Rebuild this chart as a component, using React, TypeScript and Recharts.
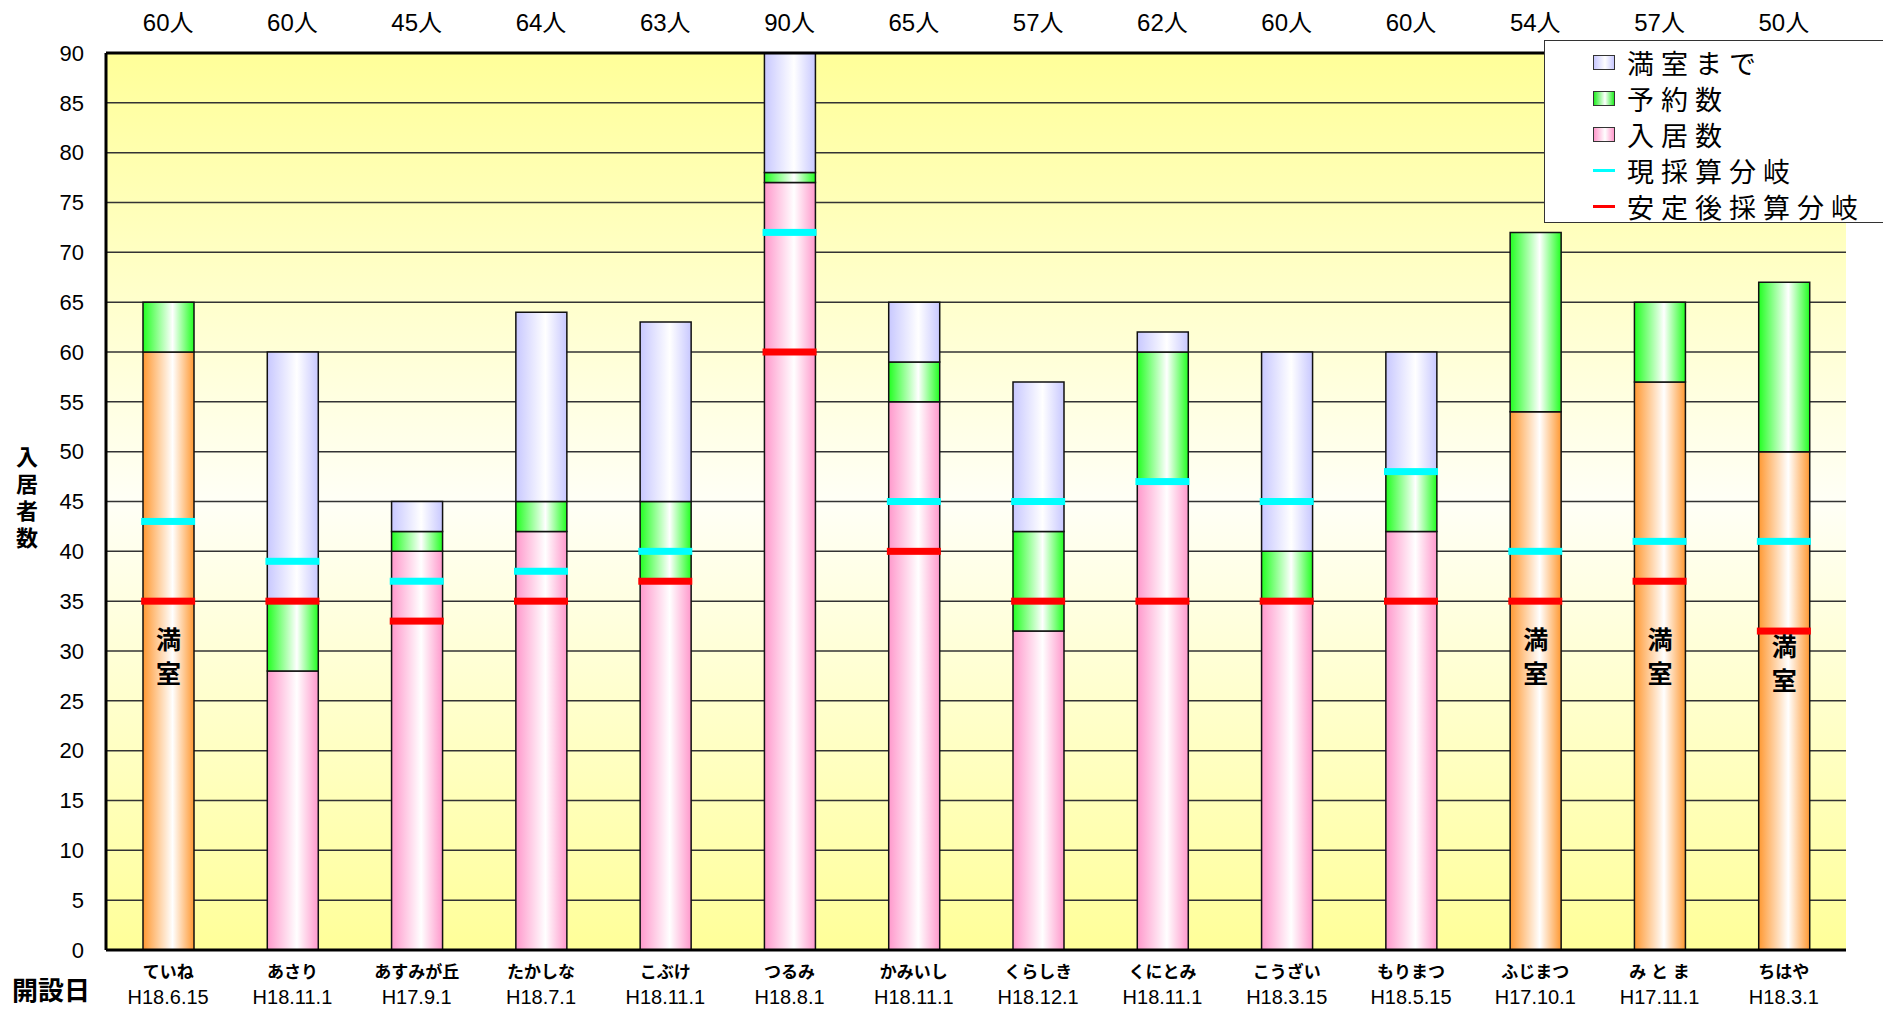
import * as React from 'react';
import {
  ComposedChart, Bar, Line, XAxis, YAxis, CartesianGrid, Cell, LabelList, Legend
} from 'recharts';

const names = ['ていね', 'あさり', 'あすみが丘', 'たかしな', 'こぶけ', 'つるみ', 'かみいし', 'くらしき', 'くにとみ', 'こうざい', 'もりまつ', 'ふじまつ', 'み と ま', 'ちはや'];
const openDates = ['H18.6.15', 'H18.11.1', 'H17.9.1', 'H18.7.1', 'H18.11.1', 'H18.8.1', 'H18.11.1', 'H18.12.1', 'H18.11.1', 'H18.3.15', 'H18.5.15', 'H17.10.1', 'H17.11.1', 'H18.3.1'];
const capacity = [60, 60, 45, 64, 63, 90, 65, 57, 62, 60, 60, 54, 57, 50];
const residents = [60, 28, 40, 42, 37, 77, 55, 32, 47, 35, 42, 54, 57, 50];
const reserved = [5, 7, 2, 3, 8, 1, 4, 10, 13, 5, 6, 18, 8, 17];
const toFull = [0, 25, 3, 19, 18, 12, 6, 15, 2, 20, 12, 0, 0, 0];
const breakEvenNow = [43, 39, 37, 38, 40, 72, 45, 45, 47, 45, 48, 40, 41, 41];
const breakEvenStable = [35, 35, 33, 35, 37, 60, 40, 35, 35, 35, 35, 35, 37, 32];
const yTicks = [0, 5, 10, 15, 20, 25, 30, 35, 40, 45, 50, 55, 60, 65, 70, 75, 80, 85, 90];

const FONT = "'Liberation Sans', 'Noto Sans CJK JP', sans-serif";

const data = names.map((name, i) => ({
  name,
  date: openDates[i],
  cap: `${capacity[i]}人`,
  residents: residents[i],
  reserved: reserved[i],
  toFull: toFull[i],
  now: breakEvenNow[i],
  stable: breakEvenStable[i],
  full: residents[i] >= capacity[i] ? '満室' : '',
}));

function BottomTick(props: any) {
  const { x, y, payload } = props;
  const d = data[payload.index];
  return (
    <g>
      <text x={x} y={y + 28} textAnchor="middle" fontSize={17} fontWeight="bold" fill="#000" fontFamily={FONT}>{d.name}</text>
      <text x={x} y={y + 54} textAnchor="middle" fontSize={20} fill="#000" fontFamily={FONT}>{d.date}</text>
    </g>
  );
}

function TopTick(props: any) {
  const { x, y, payload } = props;
  return (
    <text x={x} y={y - 22} textAnchor="middle" fontSize={24} fill="#000" fontFamily={FONT}>
      {data[payload.index].cap}
    </text>
  );
}

function dash(color: string) {
  return (p: any) => (
    <rect key={`${color}-${p.index}`} x={p.cx - 27} y={p.cy - 3.5} width={54} height={7} fill={color} />
  );
}

const legendItems = [
  { label: '満室まで', bg: 'linear-gradient(to right, #C8C8FF, #fff 55%, #C8C8FF)' },
  { label: '予約数', bg: 'linear-gradient(to right, #22EE22, #fff 55%, #22EE22)' },
  { label: '入居数', bg: 'linear-gradient(to right, #FF99CC, #fff 55%, #FF99CC)' },
];

function LegendBox() {
  const row = { display: 'flex', alignItems: 'center', height: 36 } as React.CSSProperties;
  const txt = { marginLeft: 12, fontSize: 27, letterSpacing: 7 } as React.CSSProperties;
  return (
    <div style={{ width: 360, height: 183, background: '#fff', border: '1px solid #333', boxSizing: 'border-box', paddingTop: 3, fontFamily: FONT }}>
      {legendItems.map((it) => (
        <div key={it.label} style={row}>
          <span style={{ display: 'inline-block', marginLeft: 48, width: 20, height: 13, border: '1px solid #333', background: it.bg }} />
          <span style={txt}>{it.label}</span>
        </div>
      ))}
      {[{ label: '現採算分岐', c: '#00FFFF' }, { label: '安定後採算分岐', c: '#FF0000' }].map((it) => (
        <div key={it.label} style={row}>
          <span style={{ display: 'inline-block', marginLeft: 48, width: 22, height: 3, background: it.c }} />
          <span style={txt}>{it.label}</span>
        </div>
      ))}
    </div>
  );
}

export default function App() {
  const fullContent = (props: any) => {
    const { x, y, width, height, value, index } = props;
    if (!value) return null;
    const bottom = y + height;
    const per = height / residents[index];
    const cx = x + width / 2;
    const top = Math.min(31.1, breakEvenStable[index] - 1.6);
    return (
      <g>
        <text x={cx} y={bottom - top * per} textAnchor="middle" dominantBaseline="central" fontSize={25} fontWeight="bold" fill="#000" fontFamily={FONT}>満</text>
        <text x={cx} y={bottom - (top - 3.4) * per} textAnchor="middle" dominantBaseline="central" fontSize={25} fontWeight="bold" fill="#000" fontFamily={FONT}>室</text>
      </g>
    );
  };

  return (
    <div style={{ position: 'relative', width: 1883, height: 1004, marginBottom: -8, overflow: 'hidden', fontFamily: FONT }}>
      <ComposedChart width={1883} height={1004} data={data}
        margin={{ top: 0, right: 45, bottom: 0, left: 0 }} barCategoryGap="0%">
        <defs>
          <linearGradient id="bg" x1="0" y1="0" x2="0" y2="1">
            <stop offset="0%" stopColor="#FFFF99" />
            <stop offset="50%" stopColor="#FFFFF6" />
            <stop offset="100%" stopColor="#FFFF99" />
          </linearGradient>
          <linearGradient id="gPink" x1="0" y1="0" x2="1" y2="0">
            <stop offset="0%" stopColor="#FF99CC" />
            <stop offset="58%" stopColor="#FFFFFF" />
            <stop offset="100%" stopColor="#FF99CC" />
          </linearGradient>
          <linearGradient id="gOrange" x1="0" y1="0" x2="1" y2="0">
            <stop offset="0%" stopColor="#FF9933" />
            <stop offset="58%" stopColor="#FFFFFF" />
            <stop offset="100%" stopColor="#FF9933" />
          </linearGradient>
          <linearGradient id="gGreen" x1="0" y1="0" x2="1" y2="0">
            <stop offset="0%" stopColor="#22FF22" />
            <stop offset="58%" stopColor="#FFFFFF" />
            <stop offset="100%" stopColor="#22FF22" />
          </linearGradient>
          <linearGradient id="gLav" x1="0" y1="0" x2="1" y2="0">
            <stop offset="0%" stopColor="#C8C8FF" />
            <stop offset="58%" stopColor="#FFFFFF" />
            <stop offset="100%" stopColor="#C8C8FF" />
          </linearGradient>
        </defs>
        <CartesianGrid vertical={false} fill="url(#bg)" stroke="#333" strokeWidth={1.5} fillOpacity={1} />
        <XAxis dataKey="name" height={62} tickLine={false} tickSize={0} tickMargin={0} interval={0}
          axisLine={{ stroke: '#000', strokeWidth: 3 }} tick={<BottomTick />} />
        <XAxis xAxisId="top" dataKey="name" orientation="top" height={45} tickLine={false} tickSize={0}
          tickMargin={0} interval={0} axisLine={{ stroke: '#000', strokeWidth: 3 }} tick={<TopTick />} />
        <YAxis domain={[0, 90]} ticks={yTicks} interval={0} width={98} tickLine={false} tickSize={0}
          tickMargin={22} axisLine={{ stroke: '#000', strokeWidth: 3 }}
          tick={{ fontSize: 22, fill: '#000', fontFamily: FONT }} />
        <YAxis yAxisId="right" orientation="right" domain={[0, 90]} width={0} tick={false} tickLine={false}
          axisLine={{ stroke: '#000', strokeWidth: 3 }} />
        <Bar dataKey="residents" stackId="a" barSize={51} stroke="#111" strokeWidth={1.5} isAnimationActive={false}>
          {data.map((d, i) => (
            <Cell key={i} fill={d.full ? 'url(#gOrange)' : 'url(#gPink)'} />
          ))}
          <LabelList dataKey="full" content={fullContent} />
        </Bar>
        <Bar dataKey="reserved" stackId="a" barSize={51} fill="url(#gGreen)" stroke="#111" strokeWidth={1.5} isAnimationActive={false} />
        <Bar dataKey="toFull" stackId="a" barSize={51} fill="url(#gLav)" stroke="#111" strokeWidth={1.5} isAnimationActive={false} />
        <Line dataKey="now" stroke="none" dot={dash('#00FFFF')} activeDot={false} legendType="none" isAnimationActive={false} />
        <Line dataKey="stable" stroke="none" dot={dash('#FF0000')} activeDot={false} legendType="none" isAnimationActive={false} />
        <Legend layout="vertical" align="center" verticalAlign="middle" content={() => <LegendBox />}
          wrapperStyle={{ left: 1536, top: 32, width: 360 }} />
      </ComposedChart>
      <div style={{ position: 'absolute', left: 6, top: 436, width: 26, fontSize: 22, fontWeight: 'bold', lineHeight: '27px', textAlign: 'center' }}>
        入<br />居<br />者<br />数
      </div>
      <div style={{ position: 'absolute', left: 4, top: 966, fontSize: 26, fontWeight: 'bold', lineHeight: '34px' }}>
        開設日
      </div>
    </div>
  );
}
